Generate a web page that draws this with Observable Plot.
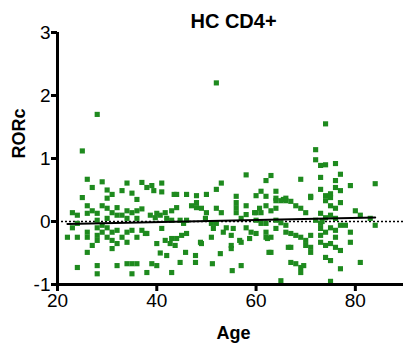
<!DOCTYPE html>
<html>
<head>
<meta charset="utf-8">
<script src="https://cdn.jsdelivr.net/npm/d3@7"></script>
<script src="https://cdn.jsdelivr.net/npm/@observablehq/plot@0.6"></script>
<style>
  html, body { margin: 0; padding: 0; background: #fff; }
  svg { display: block; }
</style>
</head>
<body>
<div id="chart"></div>
<script>
const title = "HC CD4+";
const xLabel = "Age";
const yLabel = "RORc";
const xTicks = [20, 40, 60, 80];
const yTicks = [-1, 0, 1, 2, 3];

// [age, RORc]
const upperPoints = [
  [28,1.70],[25,1.12],[52,2.20],[74,1.55],[72,1.14],[72,0.98],[73,0.89],[74,0.90],[76,0.92],
  [69,0.67],[73,0.70],[77,0.75],[76,0.65],[79,0.57],[84,0.60],[73,0.51],[76,0.54],[77,0.49],
  [71,0.40],[74,0.41],[75,0.44],
  [26,0.67],[27,0.54],[29,0.63],[30,0.50],[31,0.43],[30,0.37],[25,0.38],[34,0.61],[33,0.49],
  [35,0.45],[36,0.35],[37,0.62],[38,0.54],[39,0.57],[39.4,0.49],[41,0.61],[41,0.47],[43.5,0.43],
  [44,0.43],[46,0.43],[48,0.41],[50,0.43],[52,0.51],[53,0.61],[56,0.40],[58,0.74],[62,0.65],
  [63,0.73],[61,0.48],[60,0.41],[62,0.40],[64,0.48],[64,0.37],[65.5,0.35],[66,0.37]
];
const leftPoints = [
  [23,0.14],[24,0.10],[26,0.25],[27,0.17],[26,0.13],[28,0.13],[29,0.25],[30,0.21],[32,0.22],
  [31,0.14],[32,0.10],[34,0.17],[35,0.14],[36,0.17],[37,0.20],[33,0.10],[30,0.05],[34,0.05],
  [36,0.05],[28,0.02],[23,-0.10],[24,-0.03],[22,-0.25],[24,-0.25],[26,-0.25],[26,-0.17],
  [28,-0.10],[29,-0.06],[30,-0.10],[28,-0.22],[28,-0.30],[27,-0.38],[29,-0.17],[31,-0.17],
  [32,-0.14],[30,-0.25],[31,-0.30],[32,-0.35],[31,-0.43],[33,-0.25],[34,-0.17],[34,-0.33],
  [35,-0.14],[36,-0.25],[37,-0.14],[26,-0.49],[24,-0.73],[28,-0.70],[28,-0.83],[32,-0.70],
  [34,-0.67],[35,-0.67],[36,-0.67],[35,-0.83],[38,-0.81],[40,0.13],[43,0.17],[39,-0.67],
  [40,-0.70],[43,-0.81],[43,-0.27],[38,-0.19]
];
const middlePoints = [
  [44,0.22],[47,0.25],[48,0.30],[48,0.22],[49,0.21],[50,0.14],[52,0.21],[53,0.14],[38.7,0.10],
  [39.7,0.06],[40.7,0.10],[41.7,0.14],[42,0.05],[43,0.02],[44.7,0.02],[45.4,-0.03],[46,0.02],
  [49.8,0.05],[51,-0.03],[52,-0.03],[51.4,-0.11],[51,-0.25],[53.4,-0.17],[54,-0.10],[55.4,-0.11],
  [55,-0.22],[37.7,-0.19],[41,-0.11],[40,-0.35],[41.7,-0.30],[42.7,-0.35],[43.7,-0.38],[44,-0.27],
  [45,-0.22],[46,-0.19],[48.8,-0.33],[45.8,-0.49],[40.7,-0.50],[42,-0.54],[47.8,-0.54],[47.8,-0.65],
  [52.8,-0.51],[44.7,-0.65],[51.2,-0.67],[55.2,-0.78],[56,0.30],[56,0.22],[56,0.14],[59.7,0.14],
  [60.7,0.21],[62,0.25],[64,0.33],[49,-0.35],[55,-0.38],[55,-0.43],[56.7,-0.30],[58.7,-0.27],
  [62.3,-0.27],[57,-0.70],[62.6,-0.49],[66.5,-0.41]
];
const rightPoints = [
  [58,0.25],[58,0.11],[65,0.33],[66,0.33],[67,0.32],[68,0.25],[69,0.21],[70,0.14],[71,0.38],
  [60,0.14],[61,0.14],[63,0.17],[64,0.21],[60,0.02],[61,-0.03],[62,-0.03],[64,0.02],[65,-0.02],
  [66,-0.06],[57,0.05],[58,-0.10],[59,-0.17],[60,-0.19],[62,-0.17],[62,-0.25],[63,-0.25],
  [64,-0.11],[66,-0.17],[67,-0.19],[68,-0.22],[69,-0.25],[71,-0.22],[70,-0.30],[71,-0.41],
  [71,-0.49],[72,0.02],[73,-0.03],[73,0.13],[67,-0.41],[57,-0.33],[63,-0.49],[67,-0.65],
  [68,-0.67],[69,-0.73],[69.6,-0.70],[69,-0.81],[65,-0.94],[70,-0.38],
  [74,0.33],[75,0.38],[75,0.25],[76,0.21],[77,0.30],[74,0.06],[75,0.10],[76,0.05],[73.3,0.0],
  [77,-0.06],[78,-0.06],[80,0.17],[81,0.10],[83,0.05],[84,-0.06],[79,-0.17],[79,-0.33],
  [73,-0.11],[73,-0.22],[74,-0.17],[75,-0.10],[76,-0.14],[76,-0.25],[73,-0.33],[74,-0.38],
  [75,-0.35],[76,-0.41],[77,-0.46],[74,-0.57],[75,-0.62],[81,-0.65],[77,-0.75],[75,-0.95]
];

const data = [...upperPoints, ...leftPoints, ...middlePoints, ...rightPoints]
  .map(([age, rorc]) => ({age, rorc}));

const font = "'Liberation Sans', Arial, Helvetica, sans-serif";

const chart = Plot.plot({
  width: 403,
  height: 348,
  marginLeft: 57,
  marginRight: 0,
  marginTop: 32,
  marginBottom: 64,
  style: { fontFamily: font, fontSize: "19px", color: "#000", background: "#fff" },
  x: { domain: [20, 89.7] },
  y: { domain: [-1, 3] },
  marks: [
    Plot.ruleY([0], { stroke: "#000", strokeWidth: 1.3, strokeDasharray: "2,2" }),
    Plot.dot(data, { x: "age", y: "rorc", symbol: "square", r: 2.9, fill: "#1e8a1e", stroke: null }),
    Plot.linearRegressionY(data, { x: "age", y: "rorc", stroke: "#000", strokeWidth: 2, ci: 0 }),
    Plot.ruleX([20], { stroke: "#000", strokeWidth: 3 }),
    Plot.ruleY([-1], { stroke: "#000", strokeWidth: 3 }),
    Plot.axisX({ ticks: xTicks, tickSize: 7, tickPadding: 2, strokeWidth: 3, label: null,
      tickFormat: d => String(d), fontSize: 19 }),
    Plot.axisY({ ticks: yTicks, tickSize: 6, tickPadding: 1, strokeWidth: 3, label: null,
      tickFormat: d => String(d), fontSize: 19 }),
    Plot.text([title], { frameAnchor: "top", dy: -19, dx: 3, text: d => d, fontWeight: "bold", fontSize: 20 }),
    Plot.text([xLabel], { frameAnchor: "bottom", dy: 54, dx: 3, text: d => d, fontWeight: "bold", fontSize: 18 }),
    Plot.text([yLabel], { frameAnchor: "left", dx: -38, rotate: -90, text: d => d, fontWeight: "bold", fontSize: 18 })
  ]
});
document.getElementById("chart").appendChild(chart);
</script>
</body>
</html>
